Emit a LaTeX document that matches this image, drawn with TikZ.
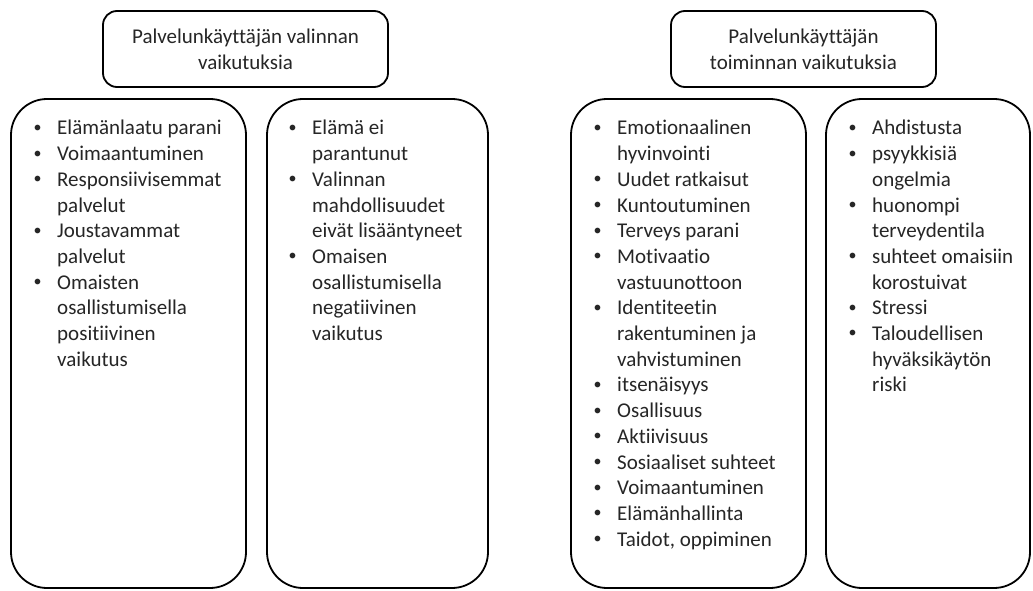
\documentclass[tikz,border=0pt]{standalone}
\usepackage{fontspec}
\setmainfont{Carlito}[Ligatures={NoCommon}]
\usepackage{array}
\definecolor{txt}{RGB}{38,38,38}
\begin{document}
\begin{tikzpicture}[x=1pt,y=1pt,
  titlebox/.style={draw=black,line width=1.8pt,rounded corners=14pt,fill=white,
    align=center,inner sep=0pt,text=txt,font=\fontsize{21}{25.7}\selectfont},
  listbox/.style={draw=black,line width=1.8pt,rounded corners=36pt,inner sep=0pt},
  listtext/.style={anchor=base west,inner sep=0pt,text=txt,font=\fontsize{21}{25.7}\selectfont}]
\useasboundingbox (0,0) rectangle (1033,590);
\fill[white] (0,0) rectangle (1033,590);
\newcommand{\blist}[1]{\begin{tabular}[t]{@{}p{24pt}@{}l@{}}#1\end{tabular}}
\newcommand{\bt}{\hspace*{0.5pt}\raisebox{2.6pt}{\fontsize{16}{16}\selectfont\textbullet}}
% title boxes
\node[titlebox,minimum width=285pt,minimum height=76pt] (t1) at (245.5,541)
  {Palvelunkäyttäjän valinnan\\vaikutuksia};
\node[titlebox,minimum width=265pt,minimum height=76pt] (t2) at (803.5,541)
  {Palvelunkäyttäjän\\toiminnan vaikutuksia};
% content boxes
\node[listbox,minimum width=235pt,minimum height=489pt] (bA) at (128.5,246.5) {};
\node[listbox,minimum width=221pt,minimum height=489pt] (bB) at (377.5,246.5) {};
\node[listbox,minimum width=235pt,minimum height=489pt] (bC) at (688.5,246.5) {};
\node[listbox,minimum width=204pt,minimum height=489pt] (bD) at (928,246.5) {};
% lists
\node[listtext] (lA) at (33,455) {\blist{%
\bt & Elämänlaatu parani\\
\bt & Voimaantuminen\\
\bt & Responsiivisemmat\\
    & palvelut\\
\bt & Joustavammat\\
    & palvelut\\
\bt & Omaisten\\
    & osallistumisella\\
    & positiivinen\\
    & vaikutus}};
\node[listtext] (lB) at (288,455) {\blist{%
\bt & Elämä ei\\
    & parantunut\\
\bt & Valinnan\\
    & mahdollisuudet\\
    & eivät lisääntyneet\\
\bt & Omaisen\\
    & osallistumisella\\
    & negatiivinen\\
    & vaikutus}};
\node[listtext] (lC) at (593,455) {\blist{%
\bt & Emotionaalinen\\
    & hyvinvointi\\
\bt & Uudet ratkaisut\\
\bt & Kuntoutuminen\\
\bt & Terveys parani\\
\bt & Motivaatio\\
    & vastuunottoon\\
\bt & Identiteetin\\
    & rakentuminen ja\\
    & vahvistuminen\\
\bt & itsenäisyys\\
\bt & Osallisuus\\
\bt & Aktiivisuus\\
\bt & Sosiaaliset suhteet\\
\bt & Voimaantuminen\\
\bt & Elämänhallinta\\
\bt & Taidot, oppiminen}};
\node[listtext] (lD) at (848,455) {\blist{%
\bt & Ahdistusta\\
\bt & psyykkisiä\\
    & ongelmia\\
\bt & huonompi\\
    & terveydentila\\
\bt & suhteet omaisiin\\
    & korostuivat\\
\bt & Stressi\\
\bt & Taloudellisen\\
    & hyväksikäytön\\
    & riski}};
\end{tikzpicture}
\end{document}
